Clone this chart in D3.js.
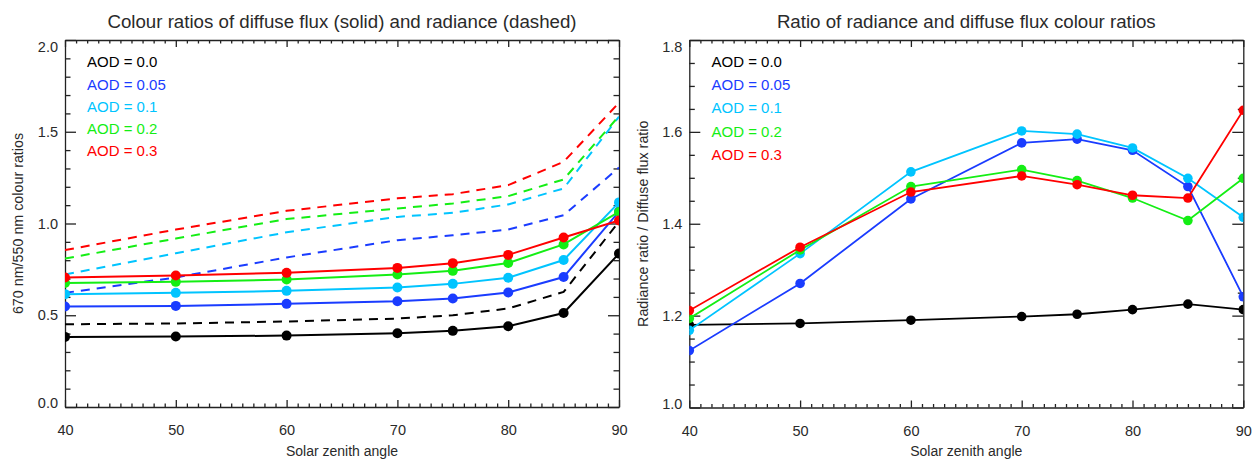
<!DOCTYPE html>
<html><head><meta charset="utf-8">
<script src="https://cdn.jsdelivr.net/npm/d3@7"></script>
<style>
html,body{margin:0;padding:0;background:#fff;}
svg{display:block;font-family:"Liberation Sans",Arial,Helvetica,sans-serif;}
</style></head>
<body>
<svg id="chart" width="1254" height="459"></svg>
<script>
// ---- data ----
const sza = [40, 50, 60, 70, 75, 80, 85, 90];
const aodLabels = ["AOD = 0.0", "AOD = 0.05", "AOD = 0.1", "AOD = 0.2", "AOD = 0.3"];
const seriesColors = ["#000000", "#1a3cff", "#00c4ff", "#14ee14", "#ff0000"];

// diffuse flux colour ratio (solid)
const flux00  = [0.382, 0.384, 0.389, 0.402, 0.415, 0.440, 0.512, 0.836];
const flux005 = [0.548, 0.551, 0.562, 0.576, 0.591, 0.624, 0.708, 1.065];
const flux01  = [0.615, 0.622, 0.633, 0.651, 0.671, 0.704, 0.801, 1.115];
const flux02  = [0.676, 0.682, 0.695, 0.722, 0.742, 0.785, 0.886, 1.063];
const flux03  = [0.706, 0.717, 0.731, 0.758, 0.784, 0.829, 0.924, 1.016];

// radiance colour ratio (dashed)
const rad00  = [0.451, 0.455, 0.466, 0.482, 0.500, 0.537, 0.627, 1.010];
const rad005 = [0.622, 0.706, 0.815, 0.909, 0.936, 0.967, 1.045, 1.305];
const rad01  = [0.722, 0.838, 0.952, 1.036, 1.058, 1.104, 1.191, 1.582];
const rad02  = [0.809, 0.918, 1.024, 1.082, 1.109, 1.149, 1.240, 1.586];
const rad03  = [0.855, 0.967, 1.069, 1.137, 1.160, 1.209, 1.336, 1.658];

// ratio of radiance and flux ratios
const ratio00  = [1.180, 1.183, 1.190, 1.198, 1.203, 1.213, 1.225, 1.213];
const ratio005 = [1.124, 1.270, 1.454, 1.576, 1.584, 1.560, 1.481, 1.241];
const ratio01  = [1.168, 1.335, 1.513, 1.602, 1.595, 1.565, 1.499, 1.414];
const ratio02  = [1.194, 1.343, 1.481, 1.518, 1.494, 1.456, 1.407, 1.499];
const ratio03  = [1.211, 1.349, 1.469, 1.504, 1.485, 1.462, 1.456, 1.647];

const xMajor = [40, 50, 60, 70, 80, 90];
const leftYMajor = [0.0, 0.5, 1.0, 1.5, 2.0];
const rightYMajor = [1.0, 1.2, 1.4, 1.6, 1.8];

const leftTitle = "Colour ratios of diffuse flux (solid) and radiance (dashed)";
const rightTitle = "Ratio of radiance and diffuse flux colour ratios";
const xTitle = "Solar zenith angle";
const leftYTitle = "670 nm/550 nm colour ratios";
const rightYTitle = "Radiance ratio / Diffuse flux ratio";

// ---- drawing ----
const svg = d3.select("#chart");
const axisColor = "#222";
const textColor = "#2a2a2a";

function panel(opts) {
  const {left, right, top, bottom, yDomain, yMajor, yMinorStep, solid, dashed,
         title, yTitle, yTitleX, legendX, legendY0, legendDy, id, r, lw} = opts;
  const x = d3.scaleLinear().domain([40, 90]).range([left, right]);
  const y = d3.scaleLinear().domain(yDomain).range([bottom, top]);
  const g = svg.append("g");

  const xMinor = d3.range(40, 91, 1).filter(v => v % 10 !== 0);
  const yMinor = d3.range(yDomain[0], yDomain[1] + 1e-9, yMinorStep)
    .filter(v => !yMajor.some(m => Math.abs(m - v) < 1e-6));

  function styleAxis(sel) {
    sel.selectAll("path,line").attr("stroke", axisColor).attr("stroke-width", 1.3);
    sel.selectAll("text").attr("fill", textColor).style("font-size", "14.5px")
      .style("font-family", '"Liberation Sans",Arial,sans-serif');
  }
  // bottom
  g.append("g").attr("transform", `translate(0,${bottom})`)
    .call(d3.axisBottom(x).tickValues(xMajor).tickFormat(d3.format("d")).tickSizeInner(-7).tickSizeOuter(0).tickPadding(18))
    .call(styleAxis);
  g.append("g").attr("transform", `translate(0,${bottom})`)
    .call(d3.axisBottom(x).tickValues(xMinor).tickFormat("").tickSizeInner(-3.5).tickSizeOuter(0))
    .call(styleAxis).call(s => s.select(".domain").remove());
  // top
  g.append("g").attr("transform", `translate(0,${top})`)
    .call(d3.axisTop(x).tickValues(xMajor).tickFormat("").tickSizeInner(-7).tickSizeOuter(0))
    .call(styleAxis);
  g.append("g").attr("transform", `translate(0,${top})`)
    .call(d3.axisTop(x).tickValues(xMinor).tickFormat("").tickSizeInner(-3.5).tickSizeOuter(0))
    .call(styleAxis).call(s => s.select(".domain").remove());
  // left
  const ya = g.append("g").attr("transform", `translate(${left},0)`)
    .call(d3.axisLeft(y).tickValues(yMajor).tickFormat(d3.format(".1f")).tickSizeInner(-11).tickSizeOuter(0).tickPadding(7))
    .call(styleAxis);
  ya.selectAll(".tick text").attr("dy", (d, i) => i === 0 ? "0.05em" : (i === yMajor.length - 1 ? "0.78em" : "0.32em"));
  g.append("g").attr("transform", `translate(${left},0)`)
    .call(d3.axisLeft(y).tickValues(yMinor).tickFormat("").tickSizeInner(-5.5).tickSizeOuter(0))
    .call(styleAxis).call(s => s.select(".domain").remove());
  // right
  g.append("g").attr("transform", `translate(${right},0)`)
    .call(d3.axisRight(y).tickValues(yMajor).tickFormat("").tickSizeInner(-11).tickSizeOuter(0))
    .call(styleAxis);
  g.append("g").attr("transform", `translate(${right},0)`)
    .call(d3.axisRight(y).tickValues(yMinor).tickFormat("").tickSizeInner(-5.5).tickSizeOuter(0))
    .call(styleAxis).call(s => s.select(".domain").remove());

  // clip
  svg.append("clipPath").attr("id", id).append("rect")
    .attr("x", left).attr("y", top).attr("width", right - left).attr("height", bottom - top);
  const plot = g.append("g").attr("clip-path", `url(#${id})`);
  const line = d3.line().x((d, i) => x(sza[i])).y(d => y(d));

  dashed.forEach((vals, k) => {
    plot.append("path").datum(vals).attr("d", line).attr("fill", "none")
      .attr("stroke", seriesColors[k]).attr("stroke-width", lw).attr("stroke-dasharray", "9,7");
  });
  solid.forEach((vals, k) => {
    plot.append("path").datum(vals).attr("d", line).attr("fill", "none")
      .attr("stroke", seriesColors[k]).attr("stroke-width", lw);
    plot.selectAll(null).data(vals).enter().append("circle")
      .attr("cx", (d, i) => x(sza[i])).attr("cy", d => y(d)).attr("r", r)
      .attr("fill", seriesColors[k]);
  });

  // legend
  aodLabels.forEach((t, k) => {
    g.append("text").attr("x", legendX).attr("y", legendY0 + k * legendDy).attr("dy", "0.35em")
      .attr("fill", seriesColors[k]).style("font-size", "15px").text(t);
  });

  // titles
  g.append("text").attr("x", (left + right) / 2).attr("y", 28).attr("text-anchor", "middle")
    .attr("fill", textColor).style("font-size", "18.7px").text(title);
  g.append("text").attr("x", (left + right) / 2).attr("y", 456).attr("text-anchor", "middle")
    .attr("fill", textColor).style("font-size", "14px").text(xTitle);
  g.append("text").attr("transform", `translate(${yTitleX},${(top + bottom) / 2}) rotate(-90)`)
    .attr("text-anchor", "middle").attr("dy", "0.35em")
    .attr("fill", textColor).style("font-size", "14.3px").text(yTitle);
}

panel({left: 65, right: 619, top: 40, bottom: 407, yDomain: [0, 2], yMajor: leftYMajor, yMinorStep: 0.1,
  solid: [flux00, flux005, flux01, flux02, flux03], dashed: [rad00, rad005, rad01, rad02, rad03],
  title: leftTitle, yTitle: leftYTitle, yTitleX: 18, legendX: 87, legendY0: 62, legendDy: 22.25,
  id: "clipL", r: 5, lw: 2});

panel({left: 689.3, right: 1243.3, top: 40, bottom: 407.5, yDomain: [1.0, 1.8], yMajor: rightYMajor, yMinorStep: 0.05,
  solid: [ratio00, ratio005, ratio01, ratio02, ratio03], dashed: [],
  title: rightTitle, yTitle: rightYTitle, yTitleX: 643, legendX: 711.5, legendY0: 62, legendDy: 23.1,
  id: "clipR", r: 4.8, lw: 1.8});
</script>
</body></html>
